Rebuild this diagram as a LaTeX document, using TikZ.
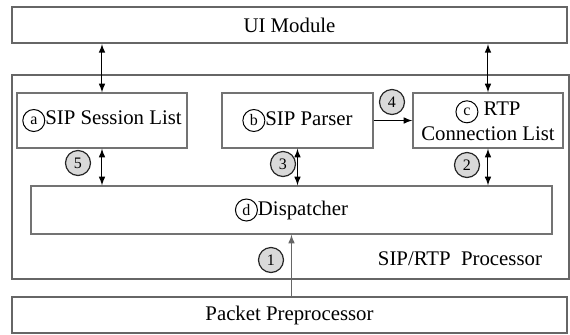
\documentclass[tikz,border=0pt]{standalone}
\usepackage{fontspec}
\setmainfont{Liberation Serif}
\usetikzlibrary{arrows}
\usetikzlibrary{positioning,calc}
\tikzset{module/.style={rectangle,draw=black!60,line width=1pt,inner sep=0pt},
		block/.style={rectangle,draw=black!55,line width=0.7pt,inner sep=0pt},
		numTag/.style={circle,draw=black!85,fill=black!15,line width=0.6pt,
		               minimum size=12.5pt,inner sep=0pt,font=\footnotesize},
		letterTag/.style={circle,draw,line width=0.5pt,inner sep=0pt,
		                  minimum size=11pt,font=\footnotesize},
		BiEdgeT/.style={latex-latex,line width=0.5pt},
		DedgeT/.style={-latex,line width=0.5pt},
		every node/.style={align=center}}
\newcommand{\lettag}[1]{\tikz[baseline=(t.base)]\node[letterTag](t){#1};}

\begin{document}
\begin{tikzpicture}[x=0.5pt,y=-0.5pt,font=\fontsize{10.4}{12.5}\selectfont]
\useasboundingbox (0,0) rectangle (570,334);
% outer modules
\node[module,minimum width=277.5pt,minimum height=18pt] (ui) at (289.5,25) {UI Module};
\node[module,minimum width=278.5pt,minimum height=102pt] (proc) at (290.5,177) {};
\node[module,minimum width=277.5pt,minimum height=18pt] (pkt) at (289.5,315) {Packet Preprocessor};
\node (procLabel) at (460,259) {SIP/RTP\ \ Processor};
% blocks inside the processor
\node[block,minimum width=85pt,minimum height=27.5pt] (sess) at (102,120.5) {\lettag{a}SIP Session List};
\node[block,minimum width=75.5pt,minimum height=27.5pt] (parser) at (297.5,120.5) {\lettag{b}SIP Parser};
\node[block,minimum width=75pt,minimum height=27.5pt] (rtp) at (488,120.5) {\lettag{c} RTP\\Connection List};
\node[block,minimum width=260.5pt,minimum height=24pt] (disp) at (291.5,210) {\raisebox{2pt}{\lettag{d}Dispatcher}};
% connectors
\draw[BiEdgeT] (sess.north) -- (sess.north |- ui.south);
\draw[BiEdgeT] (rtp.north) -- (rtp.north |- ui.south);
\draw[BiEdgeT] (sess.south) -- (sess.south |- disp.north);
\draw[BiEdgeT] (parser.south) -- (parser.south |- disp.north);
\draw[BiEdgeT] (rtp.south) -- (rtp.south |- disp.north);
\draw[DedgeT] (parser.east) -- (rtp.west);
\draw[DedgeT,draw=black!60] (disp.south |- pkt.north) -- (disp.south);
% step numbers
\node[numTag] (n1) at (271,260) {1};
\node[numTag] (n2) at (467,165) {2};
\node[numTag] (n3) at (283,164) {3};
\node[numTag] (n4) at (392,102) {4};
\node[numTag] (n5) at (78,163) {5};
\end{tikzpicture}
\end{document}
